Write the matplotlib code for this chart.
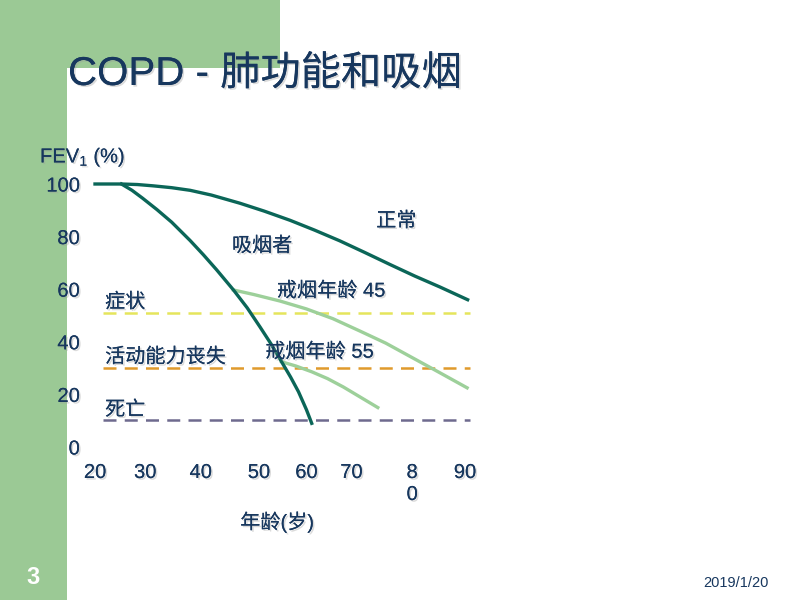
import matplotlib.pyplot as plt
import matplotlib.patheffects as pe
from matplotlib.patches import Rectangle, FancyBboxPatch

plt.rcParams['font.family'] = ['Liberation Sans', 'Noto Sans CJK SC']
plt.rcParams['mathtext.fontset'] = 'custom'
plt.rcParams['mathtext.rm'] = 'Liberation Sans'

# data (age in years, FEV1 in %)
normal_age = [20, 25, 28, 31, 34.5, 38, 42, 47.4, 52, 56.9, 61.5, 66.3, 71, 75.8, 80.5, 85.3, 90.5]
normal_fev = [100, 100, 99.8, 99.3, 98.6, 97.6, 95.8, 92.7, 89.7, 86.2, 82.5, 78.4, 74, 69.4, 65, 60.8, 56]

smoker_age = [25, 27, 29, 31.7, 34.5, 38, 40.5, 43, 46.2, 48.8, 51.2, 53.3, 55.3, 57, 58.5, 60, 61]
smoker_fev = [100, 97.6, 94.6, 90.3, 85.5, 78.5, 73.1, 67.4, 59.7, 52.9, 45.7, 39.2, 32.4, 26.6, 21, 14.2, 9]

quit45_age = [46.2, 50, 55, 60, 65, 70, 75, 80, 85, 90.4]
quit45_fev = [59.7, 58, 55.5, 52.5, 48.8, 44.2, 39.5, 34, 28.5, 22.5]

quit55_age = [55.3, 58, 61, 64, 67, 70, 73.5]
quit55_fev = [32.4, 30.8, 28.6, 26, 22.8, 19.2, 15]

threshold_names = ['症状', '活动能力丧失', '死亡']
threshold_fev = [51, 30, 10.3]
threshold_colors = ['#E5E55C', '#E09A2C', '#6E6A8E']
line_start, line_end = 21.5, 91

x_ticks = [20, 29.5, 40, 51, 60, 68.5, 80, 90]
x_labels = ['20', '30', '40', '50', '60', '70', '8\n0', '90']
y_ticks = [0, 20, 40, 60, 80, 100]

navy = '#17375E'
bg_green = '#9BC995'
dark = '#0B6658'
light = '#9DD09A'
shadow = [pe.withSimplePatchShadow(offset=(1.2, -1.2), shadow_rgbFace='#9a9a9a', alpha=0.35), pe.Normal()]

fig = plt.figure(figsize=(8, 6), dpi=100)
fig.patch.set_facecolor('white')

# slide background in pixel coordinates
bg = fig.add_axes([0, 0, 1, 1])
bg.set_xlim(0, 800)
bg.set_ylim(600, 0)
bg.axis('off')
bg.add_patch(Rectangle((0, 0), 280, 68, color=bg_green, lw=0))
bg.add_patch(Rectangle((0, 0), 67, 600, color=bg_green, lw=0))
bg.add_patch(FancyBboxPatch((67, 68), 800, 600, boxstyle='round,pad=0,rounding_size=18',
                            fc='white', ec='none'))

bg.text(68, 74, 'COPD - 肺功能和吸烟', fontsize=29, color=navy, va='center', ha='left',
        path_effects=shadow)
bg.text(40, 157, r'FEV$_\mathregular{1}$ (%)', fontsize=14.5, color=navy, va='center', ha='left',
        path_effects=shadow)
bg.text(277, 522, '年龄(岁)', fontsize=14.5, color=navy, va='center', ha='center',
        path_effects=shadow)
bg.text(33, 577, '3', fontsize=17, color='white', fontweight='bold', va='center', ha='center')
bg.text(736, 583, '2019/1/20', fontsize=10.5, color=navy, va='center', ha='center')

# chart
ax = fig.add_axes([95 / 800, 153 / 600, 370 / 800, 263 / 600])
ax.patch.set_alpha(0)
ax.set_xlim(20, 90)
ax.set_ylim(0, 100)
for s in ax.spines.values():
    s.set_visible(False)
ax.set_xticks(x_ticks)
ax.set_xticklabels(x_labels)
ax.set_yticks(y_ticks)
ax.tick_params(axis='both', length=0, labelsize=14.5, labelcolor=navy)
ax.tick_params(axis='y', pad=11)
ax.tick_params(axis='x', pad=11.5)
for lbl in ax.get_xticklabels() + ax.get_yticklabels():
    lbl.set_path_effects(shadow)

for name, fev, c in zip(threshold_names, threshold_fev, threshold_colors):
    ax.plot([line_start, line_end], [fev, fev], color=c, lw=1.8, dashes=(5.2, 3.3), clip_on=False)

ax.plot(normal_age, normal_fev, color=dark, lw=2.4, clip_on=False, solid_joinstyle='round')
ax.plot(quit45_age, quit45_fev, color=light, lw=2.4, clip_on=False, solid_joinstyle='round')
ax.plot(quit55_age, quit55_fev, color=light, lw=2.4, clip_on=False, solid_joinstyle='round')
ax.plot(smoker_age, smoker_fev, color=dark, lw=2.4, clip_on=False, solid_joinstyle='round')

label_kw = dict(fontsize=14.5, color=navy, va='center', ha='left', path_effects=shadow)
ax.text(21.9, 55.1, threshold_names[0], **label_kw)
ax.text(21.9, 34.2, threshold_names[1], **label_kw)
ax.text(21.9, 14.1, threshold_names[2], **label_kw)
ax.text(45.9, 76.4, '吸烟者', **label_kw)
ax.text(73.2, 85.9, '正常', **label_kw)
ax.text(54.4, 59.3, '戒烟年龄 45', **label_kw)
ax.text(52.2, 36.1, '戒烟年龄 55', **label_kw)

fig.savefig('out.png', dpi=100)
